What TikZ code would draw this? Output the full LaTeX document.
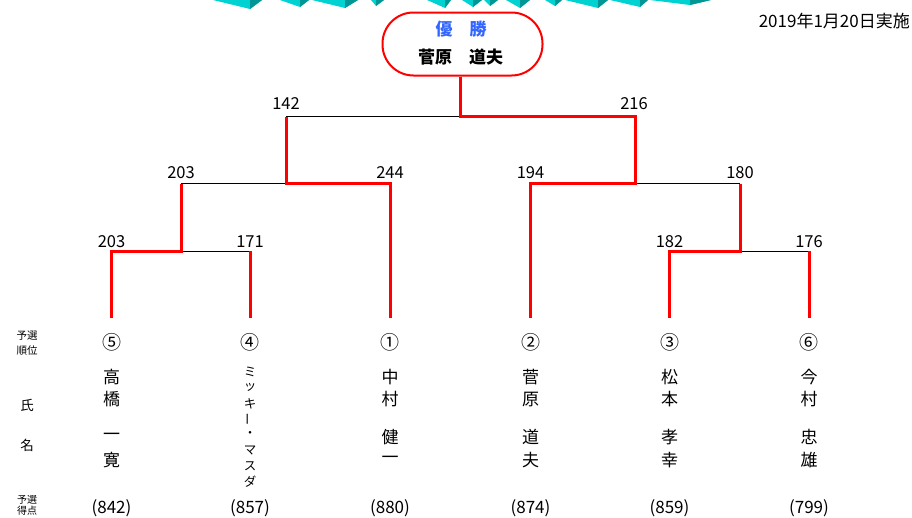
\documentclass[tikz,border=0pt]{standalone}
\usepackage{fontspec}
\setmainfont{Noto Sans CJK JP}
\definecolor{winred}{RGB}{255,0,0}
\definecolor{champblue}{RGB}{51,102,255}
\definecolor{titlecyan}{RGB}{0,210,210}
\definecolor{titleteal}{RGB}{0,150,150}
\begin{document}
\begin{tikzpicture}[x=1pt,y=-1pt,
  winline/.style={draw=winred,line width=3pt},
  loseline/.style={draw=black,line width=0.8pt},
  scorelbl/.style={inner sep=0pt,font=\fontsize{16.5}{16.5}\selectfont},
  seedlbl/.style={inner sep=0pt,font=\fontsize{19}{19}\selectfont},
  namech/.style={inner sep=0pt,font=\fontsize{17}{17}\selectfont},
  smallch/.style={inner sep=0pt,font=\fontsize{12.5}{12.5}\selectfont},
  rowlbl/.style={inner sep=0pt,align=center,font=\fontsize{10.5}{15.5}\selectfont},
  rowlblbot/.style={inner sep=0pt,align=center,font=\fontsize{10}{11.5}\selectfont},
  rowlblbig/.style={inner sep=0pt,font=\fontsize{13.5}{13.5}\selectfont},
  prelim/.style={inner sep=0pt,font=\fontsize{17}{17}\selectfont},
  titlepiece/.style={fill=titlecyan,draw=none},
  titleshade/.style={fill=titleteal,draw=none},
]
\useasboundingbox (0,0) rectangle (912,517);

% decorative title (cut off at top)
\foreach \xl/\xr/\xt/\d in {213/262/250/9, 280/309/300/7, 312/358/345/8, 371/384/376/6, 427/451/445/8, 462/482/473/7, 484/498/490/6, 506/530/520/8, 545/562/555/6, 565/608/598/8, 610/648/640/7, 650/711/690/5}{
  \fill[titlepiece] (\xl,0) -- (\xr,0) -- (\xt,\d) -- cycle;
  \fill[titleshade] (\xt,0) -- (\xr,0) -- (\xt,\d) -- cycle;
}

% date
\node[anchor=east,inner sep=0pt,font=\fontsize{17}{17}\selectfont] (date) at (910,21) {2019年1月20日実施};

% champion box
\node[draw=winred,line width=2pt,rounded corners=31pt,minimum width=160pt,minimum height=63pt,inner sep=0pt] (champ) at (462.5,44) {};
\node[inner sep=0pt,font=\fontsize{17}{17}\selectfont\bfseries,text=champblue] (champtitle) at (461,29) {優　勝};
\node[inner sep=0pt,font=\fontsize{17}{17}\selectfont\bfseries] (champname) at (460.5,57) {菅原　道夫};

% bracket coordinates
\coordinate (a1) at (111.5,251);
\coordinate (b1) at (250,251);
\coordinate (j1) at (181,251);
\coordinate (j1u) at (181,183.5);
\coordinate (c2) at (390,183.5);
\coordinate (j2) at (286,183.5);
\coordinate (j2u) at (286,116.5);
\coordinate (top) at (460.5,116.5);
\coordinate (d2) at (530.5,183.5);
\coordinate (j3) at (635,183.5);
\coordinate (j3u) at (635,116.5);
\coordinate (e1) at (669.5,251);
\coordinate (f1) at (809,251);
\coordinate (j4) at (740,251);
\coordinate (j4u) at (740,183.5);
\coordinate (aB) at (111.5,318);
\coordinate (bB) at (250,318);
\coordinate (cB) at (390,318);
\coordinate (dB) at (530.5,318);
\coordinate (eB) at (669.5,318);
\coordinate (fB) at (809,318);

% losing lines
\draw[loseline] (j1) -- (b1);
\draw[loseline] (j1u) -- (j2);
\draw[loseline] (j2u) -- (top);
\draw[loseline] (j3) -- (j4u);
\draw[loseline] (j4) -- (f1);

% winning lines
\draw[winline] (aB) -- (a1) -- (j1) -- (j1u);
\draw[winline] (bB) -- (b1);
\draw[winline] (cB) -- (c2) -- (j2) -- (j2u);
\draw[winline] (top |- champ.south) -- (top) -- (j3u) -- (j3) -- (d2) -- (dB);
\draw[winline] (j4u) -- (j4) -- (e1) -- (eB);
\draw[winline] (fB) -- (f1);

% scores
\node[scorelbl] (s142) at (286,104) {142};
\node[scorelbl] (s216) at (634,104) {216};
\node[scorelbl] (s203b) at (181,173) {203};
\node[scorelbl] (s244) at (390,173) {244};
\node[scorelbl] (s194) at (530.5,173) {194};
\node[scorelbl] (s180) at (740,173) {180};
\node[scorelbl] (s203a) at (111.5,241.5) {203};
\node[scorelbl] (s171) at (250,241.5) {171};
\node[scorelbl] (s182) at (669.5,241.5) {182};
\node[scorelbl] (s176) at (809,241.5) {176};

% seeds
\node[seedlbl] (seedA) at (111.5,342.5) {⑤};
\node[seedlbl] (seedB) at (250,342.5) {④};
\node[seedlbl] (seedC) at (390,342.5) {①};
\node[seedlbl] (seedD) at (530.5,342.5) {②};
\node[seedlbl] (seedE) at (669.5,342.5) {③};
\node[seedlbl] (seedF) at (809,342.5) {⑥};

% names
\foreach \c/\yy [count=\i] in {高/377,橋/399,一/437,寛/460}
  \node[namech] (nameA\i) at (111.5,\yy) {\c};
\foreach \c/\yy [count=\i] in {中/377,村/399,健/437,一/460}
  \node[namech] (nameC\i) at (390,\yy) {\c};
\foreach \c/\yy [count=\i] in {菅/377,原/399,道/437,夫/460}
  \node[namech] (nameD\i) at (530.5,\yy) {\c};
\foreach \c/\yy [count=\i] in {松/377,本/399,孝/437,幸/460}
  \node[namech] (nameE\i) at (669.5,\yy) {\c};
\foreach \c/\yy [count=\i] in {今/377,村/399,忠/437,雄/460}
  \node[namech] (nameF\i) at (809,\yy) {\c};
\foreach \c/\yy/\rr [count=\i] in {ミ/372/0,ッ/387.7/0,キ/403.4/0,ー/419/90,・/434.8/0,マ/450.5/0,ス/466/0,ダ/482/0}
  \node[smallch,rotate=\rr] (nameB\i) at (250,\yy) {\c};

% preliminary scores
\node[prelim] (pA) at (111.5,508) {(842)};
\node[prelim] (pB) at (250,508) {(857)};
\node[prelim] (pC) at (390,508) {(880)};
\node[prelim] (pD) at (530.5,508) {(874)};
\node[prelim] (pE) at (669.5,508) {(859)};
\node[prelim] (pF) at (809,508) {(799)};

% row labels
\node[rowlbl] (rowrank) at (27,343) {予選\\順位};
\node[rowlblbig] (rowsei) at (27,405) {氏};
\node[rowlblbig] (rowmei) at (27,445) {名};
\node[rowlblbot] (rowpts) at (27,505.5) {予選\\得点};
\end{tikzpicture}
\end{document}
